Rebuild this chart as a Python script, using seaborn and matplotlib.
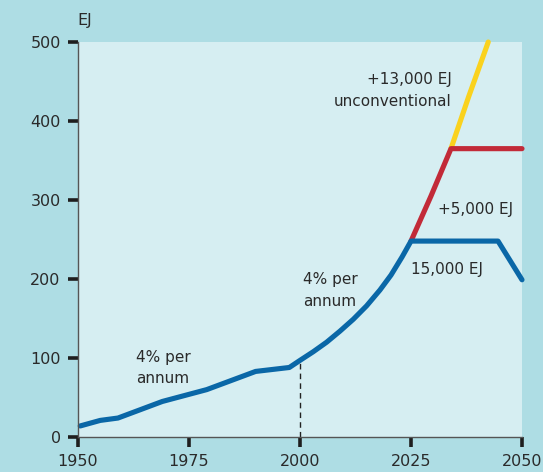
import numpy as np
import pandas as pd
import matplotlib.pyplot as plt
import seaborn as sns

# data (EJ)
base_years = [1950.5, 1955, 1959, 1969, 1979, 1990, 1997.6, 2000, 2003, 2006, 2009, 2012,
              2015, 2018, 2020.5, 2023, 2025, 2044.6, 2050]
base_vals = [14, 21, 24, 45, 60, 83, 88, 97, 108, 120, 134, 149,
             166, 186, 205, 228, 248, 248, 199]
extra_years = [2025, 2029.5, 2034, 2050]
extra_vals = [248, 305, 365, 365]
uncon_years = [2034, 2038, 2042.4]
uncon_vals = [365, 431, 500]

x_ticks = [1950, 1975, 2000, 2025, 2050]
y_ticks = [0, 100, 200, 300, 400, 500]

outer_bg = "#aedde4"
inner_bg = "#d6eef2"
blue = "#0a67a7"
red = "#c22a38"
yellow = "#fad21e"
txt = "#2a2a2a"

sns.set_style("white")
plt.rcParams['font.family'] = ['DejaVu Sans']

fig = plt.figure(figsize=(5.43, 4.72), dpi=100, facecolor=outer_bg)
ax = fig.add_axes([78/543, 1-437/472, 444/543, 395/472])
ax.set_facecolor(inner_bg)

df_base = pd.DataFrame({"year": base_years, "ej": base_vals})
df_extra = pd.DataFrame({"year": extra_years, "ej": extra_vals})
df_uncon = pd.DataFrame({"year": uncon_years, "ej": uncon_vals})

lw = 3.7
sns.lineplot(data=df_uncon, x="year", y="ej", color=yellow, linewidth=lw, ax=ax,
             solid_capstyle="round", solid_joinstyle="round", clip_on=False)
sns.lineplot(data=df_extra, x="year", y="ej", color=red, linewidth=lw, ax=ax,
             solid_capstyle="round", solid_joinstyle="round", clip_on=False)
sns.lineplot(data=df_base, x="year", y="ej", color=blue, linewidth=lw, ax=ax,
             solid_capstyle="round", solid_joinstyle="round", clip_on=False)

# dashed marker at 2000
ax.plot([2000, 2000], [0, 96], color="#222222", linestyle=(0, (4, 3)), linewidth=1.0, zorder=1)

ax.set_xlim(1950, 2050)
ax.set_ylim(0, 500)
ax.set_xticks(x_ticks)
ax.set_yticks(y_ticks)
ax.set_xlabel("")
ax.set_ylabel("")
ax.tick_params(axis="both", direction="out", length=7.5, width=2.6, color="#1e1e1e",
               labelsize=11.5, labelcolor=txt, pad=5, bottom=True, left=True)

for side in ["top", "right"]:
    ax.spines[side].set_visible(False)
for side in ["left", "bottom"]:
    ax.spines[side].set_color("#555555")
    ax.spines[side].set_linewidth(1.0)

fig.text(77/543, 1-20/472, "EJ", ha="left", va="center", fontsize=11.5, color=txt)

fs = 11
ax.text(1963.1, 101, "4% per", ha="left", va="center", fontsize=fs, color=txt)
ax.text(1963.1, 74, "annum", ha="left", va="center", fontsize=fs, color=txt)
ax.text(2000.7, 199, "4% per", ha="left", va="center", fontsize=fs, color=txt)
ax.text(2000.7, 171, "annum", ha="left", va="center", fontsize=fs, color=txt)
ax.text(2025.1, 212, "15,000 EJ", ha="left", va="center", fontsize=fs, color=txt)
ax.text(2031.1, 288, "+5,000 EJ", ha="left", va="center", fontsize=fs, color=txt)
ax.text(2034.1, 452, "+13,000 EJ", ha="right", va="center", fontsize=fs, color=txt)
ax.text(2034.1, 425, "unconventional", ha="right", va="center", fontsize=fs, color=txt)

fig.savefig("out.png", dpi=100, facecolor=outer_bg)
